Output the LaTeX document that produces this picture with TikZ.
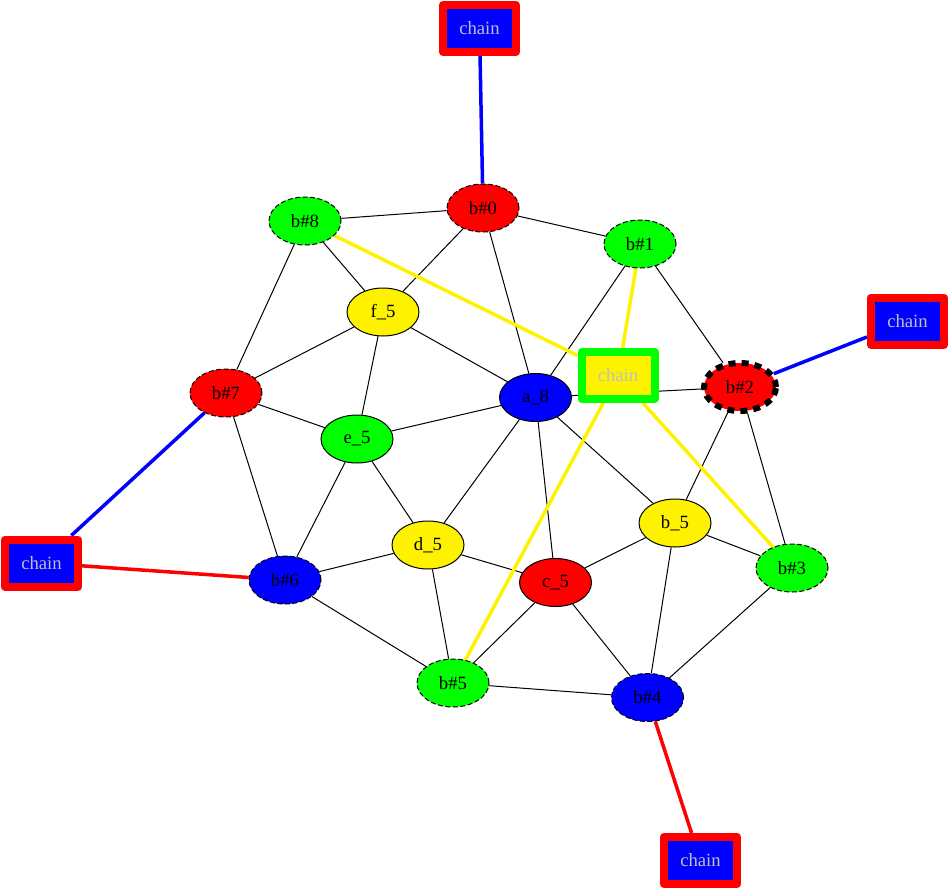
\documentclass[tikz,border=0pt]{standalone}
\usepackage{fontspec}
\setmainfont{Liberation Serif}
\usetikzlibrary{backgrounds,shapes.geometric}
\definecolor{lgray}{HTML}{C0C0C0}
\begin{document}
\begin{tikzpicture}[x=1pt,y=-1pt,
  every node/.style={font=\fontsize{18.7}{20}\selectfont},
  ell/.style={ellipse,draw=black,line width=1pt,minimum width=72pt,minimum height=48pt,inner sep=0pt},
  dell/.style={ell,dash pattern=on 5pt off 2.5pt},
  chainbox/.style={rectangle,line width=8pt,line join=round,minimum width=73pt,minimum height=47pt,inner sep=0pt,text=lgray},
  blk/.style={draw=black,line width=1pt},
  thick2/.style={line width=3.5pt}
]
\useasboundingbox (0,0) rectangle (949,891);
\node[chainbox,draw=red,fill=blue] (ct) at (479.5,28.5) {chain};
\node[chainbox,draw=red,fill=blue] (cr) at (907.5,321) {chain};
\node[chainbox,draw=red,fill=blue] (cl) at (41.5,563) {chain};
\node[chainbox,draw=red,fill=blue] (cb) at (700.5,860.5) {chain};
\node[chainbox,draw=green,fill=yellow] (cm) at (618,375.5) {chain};

\node[dell,fill=red] (b0) at (483,208) {b\#0};
\node[dell,fill=green] (b8) at (305,221) {b\#8};
\node[dell,fill=green] (b1) at (640,244) {b\#1};
\node[ell,fill=yellow] (f5) at (383,312) {f\_5};
\node[dell,fill=red] (b7) at (226,393) {b\#7};
\node[ell,fill=blue] (a8) at (535.5,397.5) {a\_8};
\node[ell,fill=green] (e5) at (357,439) {e\_5};
\node[ell,fill=red,line width=6pt,dash pattern=on 7pt off 6pt] (b2) at (740,387) {b\#2};
\node[ell,fill=yellow] (b5) at (675,523) {b\_5};
\node[ell,fill=yellow] (d5) at (428,545) {d\_5};
\node[dell,fill=green] (b3) at (792,568) {b\#3};
\node[ell,fill=red] (c5) at (555.5,582.5) {c\_5};
\node[dell,fill=blue] (b6) at (285,580) {b\#6};
\node[dell,fill=green] (b5b) at (453,683) {b\#5};
\node[dell,fill=blue] (b4) at (647.5,697.5) {b\#4};

\begin{scope}[on background layer]
\foreach \a/\b in {b0/b8,b0/b1,b0/f5,b0/a8,b8/f5,b8/b7,b1/a8,b1/b2,f5/b7,f5/e5,f5/a8,
  b7/e5,b7/b6,e5/a8,e5/b6,e5/d5,a8/b2,a8/d5,a8/c5,a8/b5,b2/b5,b2/b3,b5/c5,b5/b3,b5/b4,
  d5/b6,d5/c5,d5/b5b,b6/b5b,c5/b5b,c5/b4,b5b/b4,b3/b4}
  \draw[blk] (\a) -- (\b);
\end{scope}
\begin{scope}[on background layer]
\draw[thick2,blue] (ct) -- (b0);
\draw[thick2,blue] (cr) -- (b2);
\draw[thick2,blue] (cl) -- (b7);
\draw[thick2,red] (cl) -- (b6);
\draw[thick2,red] (cb) -- (b4);
\draw[thick2,yellow] (cm) -- (b8);
\draw[thick2,yellow] (cm) -- (b1);
\draw[thick2,yellow] (cm) -- (b5b);
\draw[thick2,yellow] (cm) -- (b3);
\end{scope}
\end{tikzpicture}
\end{document}
